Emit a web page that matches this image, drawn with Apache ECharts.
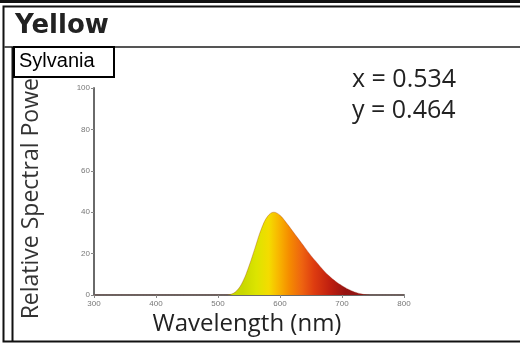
<!DOCTYPE html>
<html>
<head>
    <meta charset="utf-8">
    <title>Yellow - Sylvania</title>
    <script src="https://cdn.jsdelivr.net/npm/echarts@6/dist/echarts.min.js"></script>
    <style>
        html, body { margin: 0; padding: 0; background: #fff; }
        #main { width: 520px; height: 344px; }
    </style>
</head>
<body>
<div id="main"></div>
<script type="text/javascript">
    // wavelength (nm) and relative spectral power
    var wavelengths = [300, 310, 320, 330, 340, 350, 360, 370, 380, 390,
        400, 410, 420, 430, 440, 450, 460, 470, 480, 490,
        500, 510, 520, 530, 540, 550, 560, 570, 580, 590,
        600, 610, 620, 630, 640, 650, 660, 670, 680, 690,
        700, 710, 720, 730, 740, 750, 760, 770, 780, 790, 800];
    var power = [0, 0, 0, 0, 0, 0, 0, 0, 0, 0,
        0, 0, 0, 0, 0, 0, 0, 0, 0, 0,
        0, 0, 0.3, 2, 6.5, 14, 23, 32, 38, 40,
        38.5, 35, 31, 27, 23, 19, 15.5, 12, 9, 6.5,
        4.5, 2.8, 1.5, 0.6, 0.1, 0, 0, 0, 0, 0, 0];
    var xTicks = [300, 400, 500, 600, 700, 800];
    var yTicks = [0, 20, 40, 60, 80, 100];
    var chromaX = 0.534;
    var chromaY = 0.464;

    var seriesData = [];
    for (var i = 0; i < wavelengths.length; i++) {
        seriesData.push([wavelengths[i], power[i]]);
    }

    // spectrum colours for the fill, position = (nm - 300) / 500
    function stop(nm, c) { return {offset: (nm - 300) / 500, color: c}; }
    var fill = new echarts.graphic.LinearGradient(0, 0, 1, 0, [
        stop(300, '#c8d800'),
        stop(540, '#c8d800'),
        stop(562, '#dce400'),
        stop(582, '#f4dc00'),
        stop(597, '#f8b800'),
        stop(615, '#f58c00'),
        stop(635, '#ee6410'),
        stop(655, '#de3c10'),
        stop(680, '#c02010'),
        stop(705, '#981412'),
        stop(800, '#801818')
    ]);

    var myChart = echarts.init(document.getElementById('main'));

    var option = {
        animation: false,
        backgroundColor: '#fff',
        grid: {left: 94, right: 116, top: 88, bottom: 49},
        xAxis: {
            type: 'value',
            min: xTicks[0],
            max: xTicks[xTicks.length - 1],
            interval: 100,
            axisLine: {lineStyle: {color: '#6a6a6a', width: 2}},
            axisTick: {show: true, length: 3, lineStyle: {color: '#888'}},
            axisLabel: {fontSize: 8, color: '#777', margin: 5},
            splitLine: {show: false}
        },
        yAxis: {
            type: 'value',
            min: yTicks[0],
            max: yTicks[yTicks.length - 1],
            interval: 20,
            axisLine: {show: true, lineStyle: {color: '#6a6a6a', width: 2}},
            axisTick: {show: true, length: 3, lineStyle: {color: '#888'}},
            axisLabel: {fontSize: 8, color: '#777', margin: 4},
            splitLine: {show: false}
        },
        series: [{
            type: 'line',
            data: seriesData,
            smooth: 0.4,
            symbol: 'none',
            lineStyle: {width: 1, color: 'rgba(150,40,20,0.3)'},
            areaStyle: {color: fill, opacity: 1}
        }],
        graphic: [
            // frame
            {type: 'rect', z: 100, shape: {x: 0, y: 0, width: 520, height: 3}, style: {fill: '#111'}},
            {type: 'rect', z: 100, shape: {x: 3.5, y: 6.5, width: 540, height: 335},
                style: {fill: 'none', stroke: '#111', lineWidth: 2}},
            {type: 'line', z: 100, shape: {x1: 4, y1: 47, x2: 520, y2: 47},
                style: {stroke: '#555', lineWidth: 2}},
            {type: 'line', z: 100, shape: {x1: 12.5, y1: 47, x2: 12.5, y2: 341},
                style: {stroke: '#111', lineWidth: 2}},
            {type: 'text', z: 100, left: 15, top: 13,
                style: {text: 'Yellow', font: 'bold 26px "DejaVu Sans"', fill: '#222'}},
            // axis titles
            {type: 'text', z: 100, x: 31, y: 194, rotation: Math.PI / 2,
                style: {text: 'Relative Spectral Power', font: '23px "Open Sans"', fill: '#333',
                    align: 'center', verticalAlign: 'middle'}},
            {type: 'text', z: 100, x: 247, y: 324,
                style: {text: 'Wavelength (nm)', font: '24px "Open Sans"', fill: '#222',
                    align: 'center', verticalAlign: 'middle'}},
            // label box
            {type: 'rect', z: 110, shape: {x: 14, y: 47, width: 100, height: 30},
                style: {fill: '#fff', stroke: '#000', lineWidth: 2}},
            {type: 'text', z: 111, left: 19, top: 51,
                style: {text: 'Sylvania', font: '20px "Liberation Sans"', fill: '#000'}},
            // chromaticity
            {type: 'text', z: 100, left: 352, top: 67,
                style: {text: 'x = ' + chromaX.toFixed(3), font: '25px "Open Sans"', fill: '#222'}},
            {type: 'text', z: 100, left: 352, top: 98,
                style: {text: 'y = ' + chromaY.toFixed(3), font: '25px "Open Sans"', fill: '#222'}}
        ]
    };

    myChart.setOption(option);
</script>
</body>
</html>
